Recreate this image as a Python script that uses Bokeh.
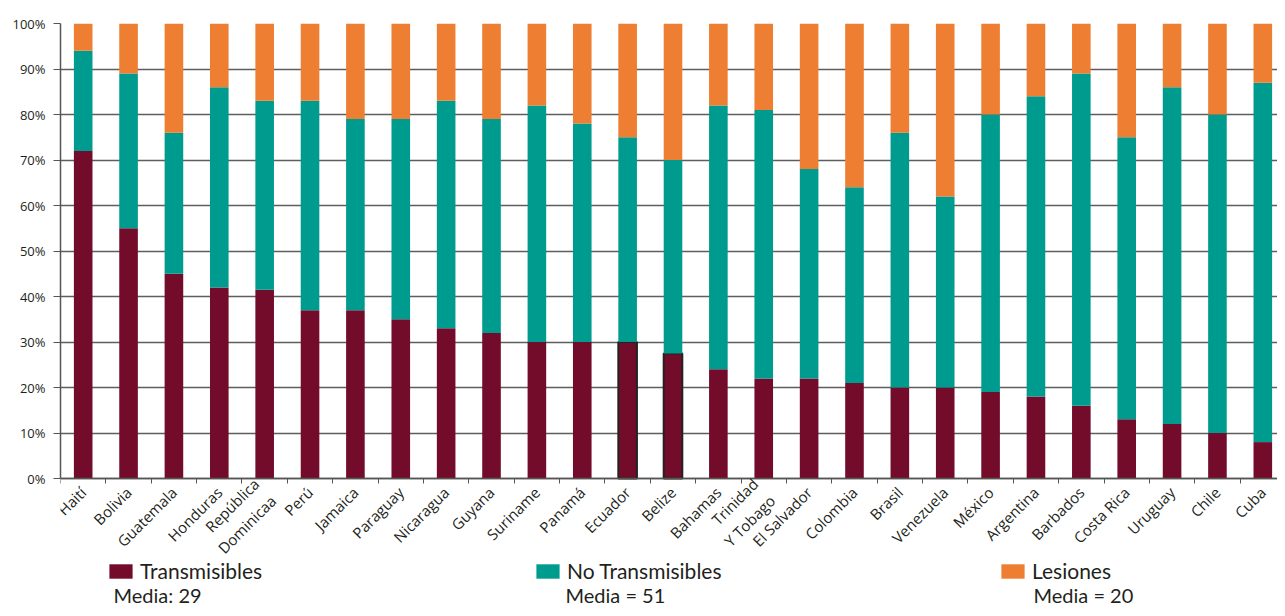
import numpy as np
from bokeh.plotting import figure
from bokeh.models import (ColumnDataSource, Range1d, FixedTicker, PrintfTickFormatter,
                          Legend, LegendItem, Label)
from bokeh.embed import file_html
from bokeh.resources import INLINE

countries = ["Haití", "Bolivia", "Guatemala", "Honduras", "República\nDominicaa", "Perú",
             "Jamaica", "Paraguay", "Nicaragua", "Guyana", "Suriname", "Panamá", "Ecuador",
             "Belize", "Bahamas", "Trinidad\nY Tobago", "El Salvador", "Colombia", "Brasil",
             "Venezuela", "México", "Argentina", "Barbados", "Costa Rica", "Uruguay", "Chile", "Cuba"]
transmisibles = [72, 55, 45, 42, 41.5, 37, 37, 35, 33, 32, 30, 30, 30, 27.5, 24, 22, 22, 21,
                 20, 20, 19, 18, 16, 13, 12, 10, 8]
no_transmisibles = [22, 34, 31, 44, 41.5, 46, 42, 44, 50, 47, 52, 48, 45, 42.5, 58, 59, 46, 43,
                    56, 42, 61, 66, 73, 62, 74, 70, 79]
lesiones = [6, 11, 24, 14, 17, 17, 21, 21, 17, 21, 18, 22, 25, 30, 18, 19, 32, 36, 24, 38, 20,
            16, 11, 25, 14, 20, 13]
outlined = ["Ecuador", "Belize"]
series_names = ["Transmisibles", "No Transmisibles", "Lesiones"]
media_texts = ["Media: 29", "Media = 51", "Media = 20"]
y_ticks = list(range(0, 101, 10))

C_T = "#730c2b"
C_NT = "#009b8f"
C_L = "#ee7e31"
TXT = "#231f20"
FONT = "Open Sans"

n = len(countries)
xs = np.arange(n)
t = np.array(transmisibles, dtype=float)
nt = np.array(no_transmisibles, dtype=float)
le = np.array(lesiones, dtype=float)

src = ColumnDataSource(dict(
    x=xs,
    t_top=t,
    nt_bot=t, nt_top=t + nt,
    l_bot=t + nt, l_top=t + nt + le,
    t_line=["#222222" if c in outlined else C_T for c in countries],
    t_lw=[2.0 if c in outlined else 0.0 for c in countries],
))

# frame spans down to the bottom of the canvas so that the legend area is inside it;
# the category axis sits at y = 0
p = figure(frame_width=1217, frame_height=585, output_backend="svg", toolbar_location=None,
           x_range=Range1d(-0.5, n - 0.5 - 0.1763), y_range=Range1d(-28.57, 100),
           min_border_left=60, min_border_right=0, min_border_top=23, min_border_bottom=0)
p.outline_line_color = None
p.background_fill_color = "white"

bw = 0.41
r_t = p.vbar(x="x", bottom=0, top="t_top", width=bw, source=src, fill_color=C_T,
             line_color="t_line", line_width="t_lw")
r_nt = p.vbar(x="x", bottom="nt_bot", top="nt_top", width=bw, source=src, fill_color=C_NT,
              line_color=None)
r_l = p.vbar(x="x", bottom="l_bot", top="l_top", width=bw, source=src, fill_color=C_L,
             line_color=None)

# x axis
xa = p.xaxis[0]
xa.fixed_location = 0
xa.ticker = FixedTicker(ticks=list(xs), minor_ticks=[i - 0.5 for i in range(n + 1)])
xa.major_label_overrides = {int(i): c for i, c in enumerate(countries)}
xa.major_label_orientation = np.pi / 4
xa.major_tick_out = 0
xa.major_tick_in = 0
xa.minor_tick_out = 5
xa.minor_tick_in = 0
xa.minor_tick_line_color = "#555555"
xa.axis_line_color = "#555555"
xa.axis_line_width = 1.5
xa.major_label_text_font = FONT
xa.major_label_text_font_size = "15px"
xa.major_label_text_color = TXT
xa.major_label_standoff = 6

# y axis
ya = p.yaxis[0]
ya.bounds = (0, 100)
ya.ticker = FixedTicker(ticks=y_ticks)
ya.formatter = PrintfTickFormatter(format="%d%%")
ya.major_tick_out = 7
ya.major_tick_in = 0
ya.minor_tick_out = 0
ya.minor_tick_in = 0
ya.major_tick_line_color = "#555555"
ya.axis_line_color = "#555555"
ya.axis_line_width = 1.5
ya.major_label_text_font = FONT
ya.major_label_text_font_size = "13px"
ya.major_label_text_color = TXT
ya.major_label_standoff = 8

p.xgrid.visible = False
p.ygrid.ticker = FixedTicker(ticks=y_ticks)
p.ygrid.grid_line_color = "#5e5e5e"
p.ygrid.grid_line_width = 1.6

# legends (one per series) and "Media" notes, in screen px from the frame's bottom-left
leg_x = [46, 473, 938]
media_x = [53, 505, 973]
for name, rend, lx, mx, mt in zip(series_names, [r_t, r_nt, r_l], leg_x, media_x, media_texts):
    lg = Legend(items=[LegendItem(label=name, renderers=[rend])], location=(lx, 25),
                orientation="horizontal", glyph_width=29, glyph_height=18, label_standoff=5,
                label_text_font="Lato", label_text_font_size="21px", label_text_color=TXT,
                padding=0, margin=0, border_line_color=None, background_fill_alpha=0,
                label_height=18)
    p.add_layout(lg, "center")
    p.add_layout(Label(x=mx, y=14, x_units="screen", y_units="screen", text=mt,
                       text_font="Lato", text_font_size="20px", text_color=TXT,
                       text_baseline="alphabetic"))

open("out.html", "w").write(file_html(p, INLINE))
